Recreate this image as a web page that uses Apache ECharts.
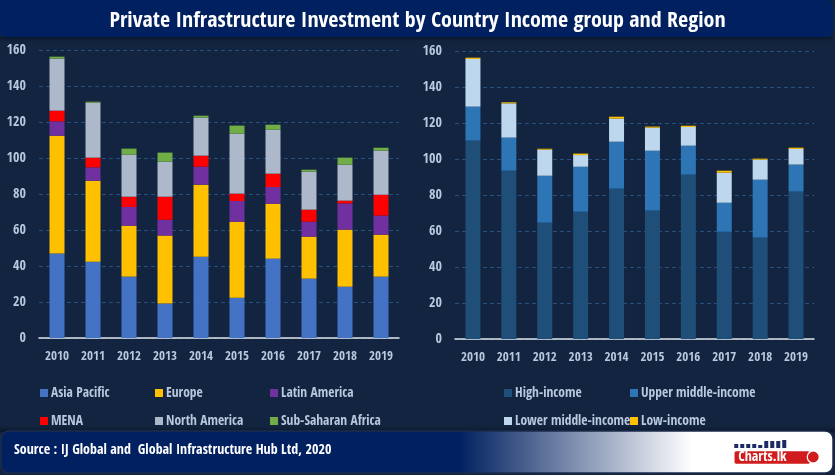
<!DOCTYPE html>
<html><head><meta charset="utf-8">
<script src="https://cdn.jsdelivr.net/npm/echarts@6/dist/echarts.min.js"></script>
<style>html,body{margin:0;padding:0;background:#12243f;}#c{width:835px;height:475px;}</style>
</head><body><div id="c"></div>
<script>
const years = ['2010','2011','2012','2013','2014','2015','2016','2017','2018','2019'];
const yTicks = [0,20,40,60,80,100,120,140,160];
// Left: by region
const asiaPacific = [47.0, 42.4, 34.1, 19.1, 45.2, 22.4, 44.1, 33.0, 28.5, 34.1];
const europe      = [65.4, 45.0, 28.3, 37.8, 40.0, 42.2, 30.5, 23.3, 31.7, 23.3];
const latinAmerica= [8.0, 7.4, 10.4, 8.8, 10.0, 11.5, 9.3, 8.3, 14.6, 10.6];
const mena        = [5.9, 5.4, 5.7, 12.8, 6.1, 4.1, 7.4, 6.7, 1.5, 11.6];
const northAmerica= [28.9, 30.5, 23.4, 19.5, 21.1, 33.3, 24.4, 21.1, 20.0, 24.5];
const subSaharan  = [1.1, 0.6, 3.3, 5.0, 1.1, 4.5, 2.8, 1.1, 3.9, 1.6];
// Right: by income group
const highIncome  = [110.2, 93.5, 64.6, 70.7, 83.5, 71.3, 91.3, 59.6, 56.3, 81.9];
const upperMiddle = [18.9, 18.4, 26.1, 25.0, 26.1, 33.3, 16.1, 16.1, 32.2, 15.0];
const lowerMiddle = [26.5, 19.0, 14.5, 6.5, 12.8, 12.8, 10.4, 16.7, 11.1, 8.7];
const lowIncome   = [0.7, 0.6, 0.5, 0.8, 1.1, 0.6, 0.7, 1.1, 0.6, 0.7];

const FONT = '"Open Sans Condensed","Roboto Condensed",sans-serif';
const LBL = '#b8c8de';
const chart = echarts.init(document.getElementById('c'), null, {renderer:'canvas'});

function xAx(gi){return {type:'category',gridIndex:gi,data:years,
  axisLine:{lineStyle:{color:'#dfe3ea',width:1.5}},axisTick:{show:false},
  axisLabel:{color:LBL,fontFamily:FONT,fontWeight:'bold',fontSize:13,margin:12,interval:0}};}
function yAx(gi){return {type:'value',gridIndex:gi,min:yTicks[0],max:yTicks[yTicks.length-1],interval:yTicks[1]-yTicks[0],
  axisLine:{show:false},axisTick:{show:false},
  axisLabel:{color:LBL,fontFamily:FONT,fontWeight:'bold',fontSize:14,margin:13},
  splitLine:{lineStyle:{color:'#28507e',type:[4,3],width:1}}};}
function bar(name,data,color,gi,stack){return {name,type:'bar',stack,xAxisIndex:gi,yAxisIndex:gi,data,barWidth:15,
  itemStyle:{color},emphasis:{disabled:true}};}
function leg(data,left,top){return {data,left,top,padding:0,orient:'vertical',itemGap:14,itemWidth:8,itemHeight:8,icon:'rect',
  textStyle:{color:LBL,fontFamily:FONT,fontWeight:'bold',fontSize:13.5,padding:[0,0,0,-2]},selectedMode:false};}

chart.setOption({
  backgroundColor:'#12243f',
  animation:false,
  title:{text:'Private Infrastructure Investment by Country Income group and Region',left:'center',top:5,
    textStyle:{color:'#ffffff',fontFamily:FONT,fontSize:22,fontWeight:'bold'}},
  graphic:[
    {type:'rect',z:-1,shape:{x:0,y:0,width:833,height:37,r:[0,6,6,6]},style:{fill:'#002060'}},
    {type:'rect',z:-1,shape:{x:0,y:37,width:833,height:6},style:{fill:new echarts.graphic.LinearGradient(0,0,0,1,[{offset:0,color:'#0a1628'},{offset:1,color:'rgba(18,36,63,0)'}])}},
    {type:'rect',z:-1,shape:{x:0,y:424,width:835,height:8},style:{fill:new echarts.graphic.LinearGradient(0,0,0,1,[{offset:0,color:'rgba(18,36,63,0)'},{offset:1,color:'#0a1628'}])}},
    {type:'rect',z:-1,shape:{x:1,y:431,width:832,height:42,r:8},style:{stroke:'#1b2c4c',lineWidth:1.5,fill:new echarts.graphic.LinearGradient(0,0,1,0,[{offset:0,color:'#002060'},{offset:0.55,color:'#002060'},{offset:0.83,color:'#ffffff'},{offset:1,color:'#ffffff'}])}},
    {type:'text',left:14,top:443,style:{text:'Source : IJ Global and  Global Infrastructure Hub Ltd, 2020',fill:'#ffffff',font:'bold 14px '+FONT}},
    {type:'group',left:734,top:440,children:[
      {type:'rect',shape:{x:0,y:3,width:4,height:4},style:{fill:'#1e2a66'}},
      {type:'rect',shape:{x:6,y:3,width:4,height:4},style:{fill:'#1e2a66'}},
      {type:'rect',shape:{x:12,y:3,width:4,height:4},style:{fill:'#1e2a66'}},
      {type:'rect',shape:{x:18,y:3,width:4,height:4},style:{fill:'#1e2a66'}},
      {type:'rect',shape:{x:24,y:4,width:4,height:3},style:{fill:'#1e2a66'}},
      {type:'rect',shape:{x:30,y:0,width:4,height:7},style:{fill:'#1e2a66'}},
      {type:'rect',shape:{x:36,y:0,width:4,height:7},style:{fill:'#1e2a66'}},
      {type:'rect',shape:{x:42,y:0,width:4,height:7},style:{fill:'#1e2a66'}},
      {type:'rect',shape:{x:48,y:-1,width:4,height:8},style:{fill:'#1e2a66'}},
      {type:'rect',shape:{x:0,y:10,width:76,height:13,r:2},style:{fill:'#d01c1c',stroke:'#ffffff',lineWidth:0.5}},
      {type:'circle',shape:{cx:79,cy:16,r:6},style:{fill:'#d01c1c',stroke:'#ffffff',lineWidth:1.2}},
      {type:'text',x:4,y:9,style:{text:'Charts.lk',fill:'#ffffff',font:'bold 14px '+FONT}}
    ]}
  ],
  grid:[
    {left:39,right:436,top:50,bottom:137},
    {left:455,right:21,top:51,bottom:136}
  ],
  xAxis:[xAx(0),xAx(1)],
  yAxis:[yAx(0),yAx(1)],
  legend:[
    leg(['Asia Pacific','MENA'],40,386),
    leg(['Europe','North America'],155,386),
    leg(['Latin America','Sub-Saharan Africa'],270,386),
    leg(['High-income','Lower middle-income'],504,386),
    leg(['Upper middle-income','Low-income'],630,386)
  ],
  series:[
    bar('Asia Pacific',asiaPacific,'#4472c4',0,'r'),
    bar('Europe',europe,'#ffc000',0,'r'),
    bar('Latin America',latinAmerica,'#7030a0',0,'r'),
    bar('MENA',mena,'#ff0000',0,'r'),
    bar('North America',northAmerica,'#adb9ca',0,'r'),
    bar('Sub-Saharan Africa',subSaharan,'#70ad47',0,'r'),
    bar('High-income',highIncome,'#1f4e79',1,'i'),
    bar('Upper middle-income',upperMiddle,'#2e75b6',1,'i'),
    bar('Lower middle-income',lowerMiddle,'#bdd7ee',1,'i'),
    bar('Low-income',lowIncome,'#ffc000',1,'i')
  ]
});
</script></body></html>
